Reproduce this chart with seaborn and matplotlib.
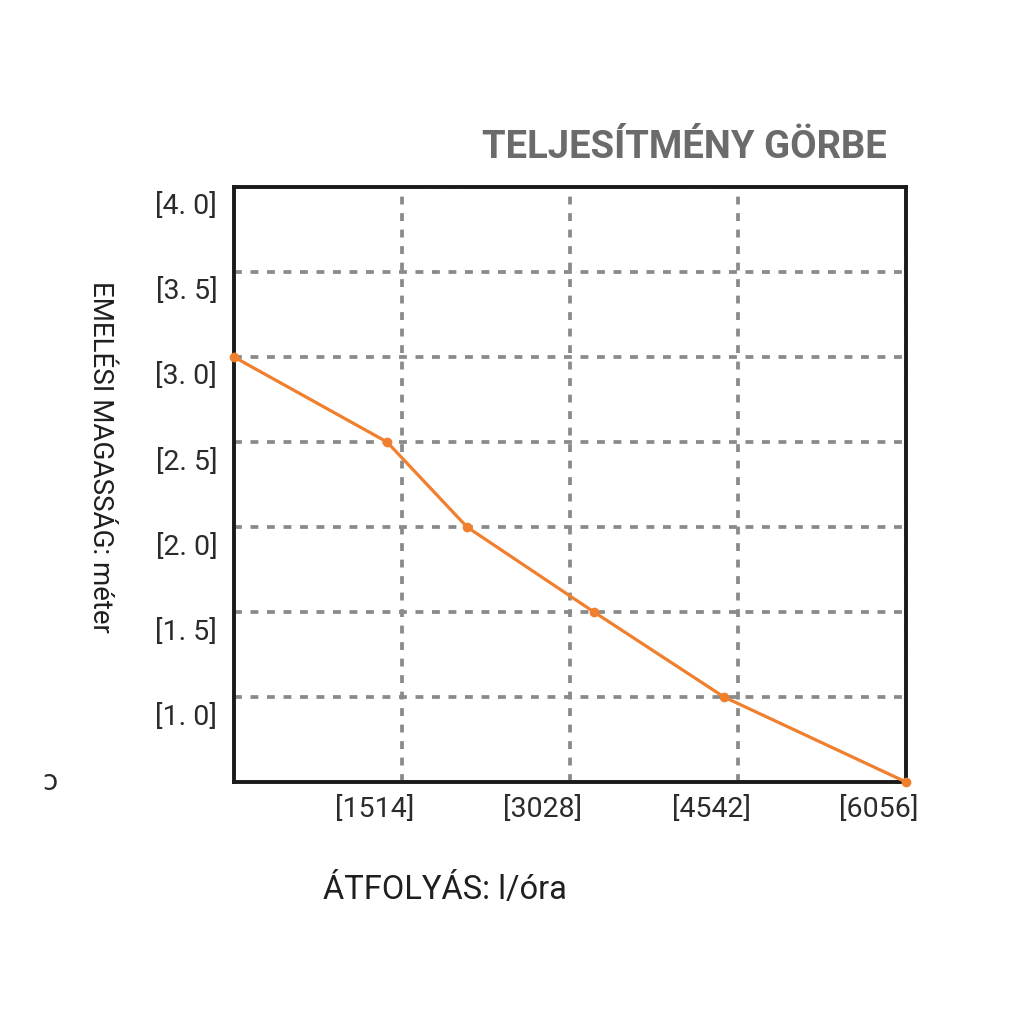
import matplotlib
matplotlib.use("Agg")
import matplotlib.pyplot as plt
import matplotlib.transforms as mtransforms
import seaborn as sns
import pandas as pd

# performance curve points (flow l/h, lift m)
flow = [0, 1379, 2100, 3244, 4416, 6056]
head = [3.0, 2.5, 2.0, 1.5, 1.0, 0.5]

x_ticks = [1514, 3028, 4542, 6056]
x_labels = ["[1514]", "[3028]", "[4542]", "[6056]"]
y_ticks = [1.0, 1.5, 2.0, 2.5, 3.0, 3.5, 4.0]
y_labels = ["[1. 0]", "[1. 5]", "[2. 0]", "[2. 5]", "[3. 0]", "[3. 5]", "[4. 0]"]

title = "TELJESÍTMÉNY GÖRBE"
xlabel = "ÁTFOLYÁS: l/óra"
ylabel = "EMELÉSI MAGASSÁG: méter"

sns.set_style("white")
plt.rcParams["font.family"] = ["Roboto", "DejaVu Sans"]

df = pd.DataFrame({"flow": flow, "head": head})

fig = plt.figure(figsize=(10.24, 10.24), dpi=100)
ax = fig.add_axes([0.2285, 0.2363, 0.6563, 0.5811])

sns.lineplot(data=df, x="flow", y="head", ax=ax, color="#f07f2e", linewidth=2.3,
             marker="o", markersize=7, markeredgewidth=0, zorder=3, clip_on=False)

ax.set_xlim(0, 6056)
ax.set_ylim(0.5, 4.0)
ax.set_xticks(x_ticks)
ax.set_xticklabels(x_labels)
ax.set_yticks(y_ticks)
ax.set_yticklabels(y_labels)
ax.tick_params(axis="both", length=0, labelsize=20.5, labelcolor="#2b2b2b")
ax.tick_params(axis="x", pad=10)
ax.tick_params(axis="y", pad=12)

# labels sit off the grid lines in the original
dx = mtransforms.ScaledTranslation(-27 / 100, 0, fig.dpi_scale_trans)
for lab in ax.get_xticklabels():
    lab.set_transform(lab.get_transform() + dx)
dy = mtransforms.ScaledTranslation(0, -17 / 100, fig.dpi_scale_trans)
for lab in ax.get_yticklabels():
    lab.set_transform(lab.get_transform() + dy)

ax.grid(True, color="#8a8a8a", linewidth=2.7, linestyle=(0, (2.1, 2.3)))
ax.set_axisbelow(True)
for s in ax.spines.values():
    s.set_color("#1a1a1a")
    s.set_linewidth(2.8)
    s.set_visible(True)

ax.set_xlabel("")
ax.set_ylabel("")
fig.text(445 / 1024, 1 - 890 / 1024, xlabel, ha="center", va="center",
         fontsize=23.5, color="#1f1f1f")
fig.text(100 / 1024, 1 - 457 / 1024, ylabel, ha="center", va="center",
         rotation=270, fontsize=20, color="#1f1f1f")
fig.text(887 / 1024, 1 - 147 / 1024, title, ha="right", va="center",
         fontsize=27.5, fontweight="bold", color="#6b6b6b")
fig.text(50 / 1024, 1 - 782 / 1024, "ɔ", ha="center", va="center",
         fontsize=20, color="#2b2b2b")

fig.savefig("out.png", dpi=100, facecolor="white")
